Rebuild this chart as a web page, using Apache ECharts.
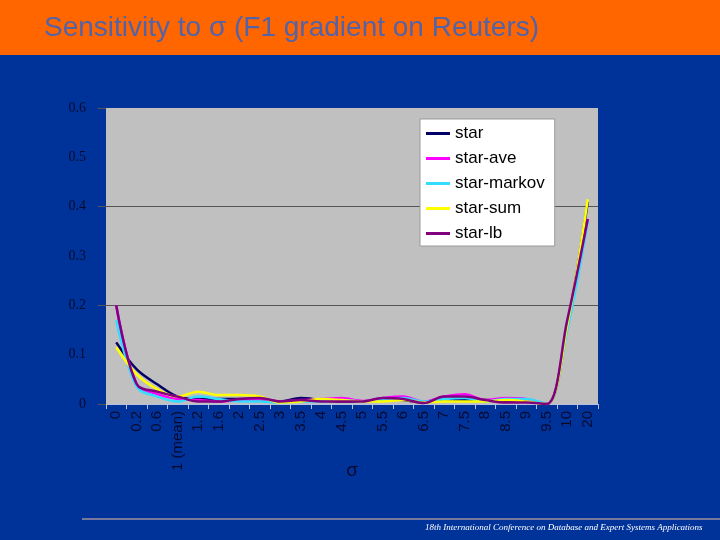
<!DOCTYPE html>
<html>
<head>
<meta charset="utf-8">
<script src="https://cdn.jsdelivr.net/npm/echarts@6/dist/echarts.min.js"></script>
<style>
html, body { margin: 0; padding: 0; background: #003399; }
#main { width: 720px; height: 540px; }
</style>
</head>
<body>
<div id="main"></div>
<script>
var sigmas = ['0', '0.2', '0.6', '1 (mean)', '1.2', '1.6', '2', '2.5', '3', '3.5', '4', '4.5',
    '5', '5.5', '6', '6.5', '7', '7.5', '8', '8.5', '9', '9.5', '10', '20'];
var star    = [0.125, 0.07, 0.04, 0.015, 0.01, 0.01, 0.01, 0.01, 0.005, 0.012, 0.008, 0.005,
    0.005, 0.01, 0.008, 0.003, 0.01, 0.008, 0.008, 0.005, 0.005, 0, 0.16, 0.41];
var starAve = [0.2, 0.04, 0.02, 0.01, 0.008, 0.005, 0.008, 0.01, 0.005, 0.008, 0.01, 0.012,
    0.006, 0.012, 0.015, 0.005, 0.015, 0.02, 0.008, 0.012, 0.01, 0, 0.16, 0.375];
var starMarkov = [0.17, 0.035, 0.015, 0.005, 0.015, 0.01, 0.005, 0.005, 0.003, 0.005, 0.005, 0.008,
    0.005, 0.008, 0.012, 0.005, 0.01, 0.012, 0.005, 0.01, 0.01, 0, 0.15, 0.37];
var starSum = [0.115, 0.06, 0.03, 0.015, 0.025, 0.018, 0.018, 0.015, 0.003, 0.005, 0.01, 0.008,
    0.005, 0.005, 0.008, 0.003, 0.005, 0.005, 0.005, 0.008, 0.005, 0, 0.16, 0.415];
var starLb  = [0.2, 0.04, 0.025, 0.015, 0.005, 0.005, 0.01, 0.012, 0.005, 0.008, 0.005, 0.005,
    0.005, 0.012, 0.01, 0.002, 0.015, 0.015, 0.008, 0.003, 0.003, 0, 0.17, 0.375];
var yTicks = [0, 0.1, 0.2, 0.3, 0.4, 0.5, 0.6];

var myChart = echarts.init(document.getElementById('main'));

function line(name, data, color) {
    return {
        name: name,
        type: 'line',
        data: data,
        smooth: 0.35,
        showSymbol: false,
        color: color,
        lineStyle: { width: 2.5, color: color }
    };
}

option = {
    backgroundColor: '#003399',
    animation: false,
    graphic: [
        { type: 'rect', shape: { x: 0, y: 0, width: 720, height: 55 }, style: { fill: '#ff6600' } },
        { type: 'text', left: 44, top: 14,
          style: { text: 'Sensitivity to σ (F1 gradient on Reuters)', fontSize: 28,
                   fontFamily: 'Arial, "Liberation Sans"', fill: '#5363a8' } },
        { type: 'line', shape: { x1: 82, y1: 519, x2: 720, y2: 519 }, style: { stroke: '#a090a0', lineWidth: 1.5 } },
        { type: 'text', left: 425, top: 523,
          style: { text: '18th International Conference on Database and Expert Systems Applications',
                   fontSize: 9, fontStyle: 'italic', fontFamily: '"Liberation Serif", serif', fill: '#ffffff' } }
    ],
    grid: {
        left: 106, right: 122, top: 108, bottom: 136,
        show: true, backgroundColor: '#c0c0c0', borderWidth: 0
    },
    legend: {
        data: ['star', 'star-ave', 'star-markov', 'star-sum', 'star-lb'],
        orient: 'vertical',
        left: 420, top: 119,
        backgroundColor: '#ffffff',
        borderColor: '#999999', borderWidth: 1, borderRadius: 0,
        padding: [6, 10, 4, 6],
        icon: 'rect', itemWidth: 24, itemHeight: 3, itemGap: 8,
        textStyle: { fontSize: 17, color: '#000000', fontFamily: 'Arial, "Liberation Sans"' }
    },
    xAxis: {
        type: 'category',
        boundaryGap: true,
        data: sigmas,
        name: 'σ',
        nameLocation: 'middle',
        nameGap: 57,
        nameMoveOverlap: false,
        nameTextStyle: { fontSize: 19, color: '#0a0a30' },
        axisLine: { lineStyle: { color: '#b8c0e0', width: 1 } },
        axisTick: { show: true, length: 5, lineStyle: { color: '#b8c0e0' } },
        axisLabel: { rotate: 90, fontSize: 15, color: '#0a0a30', margin: 7,
                     fontFamily: 'Arial, "Liberation Sans"' }
    },
    yAxis: [{
        type: 'value',
        min: yTicks[0], max: yTicks[yTicks.length - 1], interval: 0.1,
        axisLine: { show: false },
        axisTick: { show: false },
        splitLine: { show: false },
        axisLabel: { fontSize: 14, color: '#0a0a30', margin: 20, fontFamily: '"Liberation Serif", serif',
                     formatter: function (v) { return v === 0 ? '0' : v.toFixed(1); } }
    }, {
        type: 'value',
        position: 'left',
        min: 0, max: 0.6, interval: 0.2,
        axisLine: { show: false },
        axisLabel: { show: false },
        axisTick: { show: true, length: 8, lineStyle: { color: '#555555' } },
        splitLine: { show: true, lineStyle: { color: ['transparent', '#555555', '#555555', 'transparent'], width: 1 } }
    }],
    series: [
        line('star', star, '#000066'),
        line('star-ave', starAve, '#ff00ff'),
        line('star-markov', starMarkov, '#33ddff'),
        line('star-sum', starSum, '#ffff00'),
        line('star-lb', starLb, '#800080')
    ]
};
myChart.setOption(option);
</script>
</body>
</html>
